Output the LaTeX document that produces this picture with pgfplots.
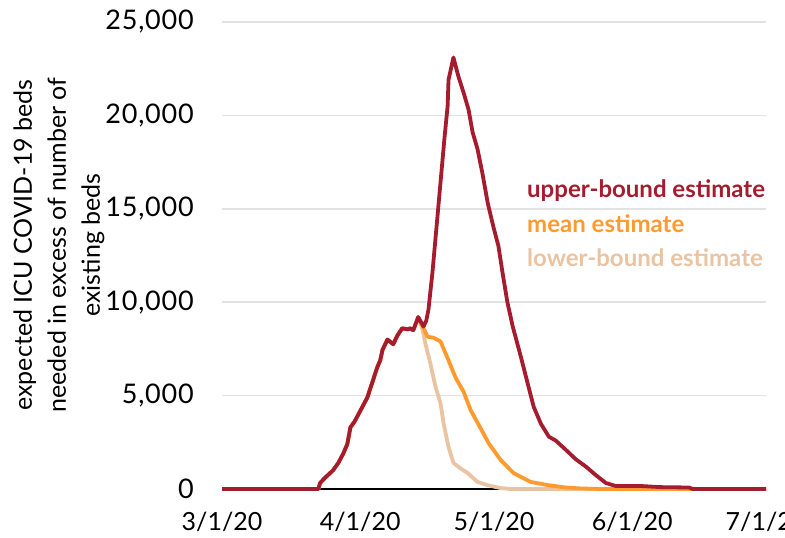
\documentclass[border=0pt]{standalone}
\usepackage{fontspec}
\setmainfont{Lato}
\newfontfamily\tickfont[LetterSpace=3]{Lato}
\usepackage{pgfplots}
\pgfplotsset{compat=1.18}
\definecolor{ub}{HTML}{A51C2F}
\definecolor{mn}{HTML}{FF9A2E}
\definecolor{lb}{HTML}{EAC4A2}
\definecolor{gridc}{HTML}{E2E2E2}
\begin{document}
\begin{tikzpicture}[x=1pt,y=1pt]
\useasboundingbox (0,0) rectangle (785,538);
\clip (0,0) rectangle (785,538);
\begin{axis}[
  at={(222pt,49pt)}, anchor=south west,
  scale only axis, width=544pt, height=467pt,
  xmin=0, xmax=122, ymin=0, ymax=25000,
  axis x line*=bottom, axis y line*=left,
  y axis line style={draw=none},
  x axis line style={black, line width=1.5pt},
  xtick={0,31,61,92,122},
  xticklabels={3/1/20,4/1/20,5/1/20,6/1/20,7/1/20},
  ytick={0,5000,10000,15000,20000,25000},
  major tick length=0pt,
  ymajorgrids, major grid style={gridc, line width=1.5pt},
  /pgf/number format/assume math mode=true,
  /pgf/number format/1000 sep={,},
  scaled y ticks=false,
  yticklabel style={font=\tickfont\fontsize{27}{30}\selectfont, black, anchor=east, inner sep=0pt, xshift=-28pt},
  xticklabel style={font=\fontsize{25}{30}\selectfont, black, anchor=north, inner sep=0pt, yshift=-23pt},
  clip=false,
]
\addplot[lb, line width=3.8pt, line join=round] coordinates {
(0,0) (21.6,0) (22.0,320) (23.1,600) (24.9,1000) (26.1,1400) (27.2,1900) (28.1,2400) (28.8,3300) (29.7,3600) (30.6,4000) (32.6,4900) (33.7,5700) (34.8,6500) (35.5,6900) (36.0,7450) (37.1,8000) (38.4,7750) (39.3,8200) (40.4,8600) (41.6,8550) (42.2,8600) (42.9,8500) (44.0,9200)
(44.9,8600) (45.6,7800) (46.7,6750) (47.9,5450) (49.0,4600) (49.7,3500) (50.8,2250) (51.9,1400) (53.5,1100) (55.1,850) (57.3,380) (59.6,200) (62.5,50) (64.7,0) (122,0)
};
\addplot[mn, line width=3.8pt, line join=round] coordinates {
(0,0) (21.6,0) (22.0,320) (23.1,600) (24.9,1000) (26.1,1400) (27.2,1900) (28.1,2400) (28.8,3300) (29.7,3600) (30.6,4000) (32.6,4900) (33.7,5700) (34.8,6500) (35.5,6900) (36.0,7450) (37.1,8000) (38.4,7750) (39.3,8200) (40.4,8600) (41.6,8550) (42.2,8600) (42.9,8500) (44.0,9200)
(45.2,8600) (46.1,8150) (47.4,8100) (49.0,7900) (50.6,7000) (52.4,5950) (54.2,5200) (55.7,4250) (58.0,3250) (59.8,2450) (62.5,1550) (65.4,850) (69.2,380) (73.0,210) (77.1,80) (80.4,30) (84.9,0) (122,0)
};
\addplot[ub, line width=3.8pt, line join=round] coordinates {
(0,0) (21.6,0) (22.0,320) (23.1,600) (24.9,1000) (26.1,1400) (27.2,1900) (28.1,2400) (28.8,3300) (29.7,3600) (30.6,4000) (32.6,4900) (33.7,5700) (34.8,6500) (35.5,6900) (36.0,7450) (37.1,8000) (38.4,7750) (39.3,8200) (40.4,8600) (41.6,8550) (42.2,8600) (42.9,8500) (44.0,9200)
(45.2,8700) (45.8,9000) (46.3,9600) (47.2,11600) (48.1,14000) (49.0,16400) (49.9,18800) (50.6,20500) (50.8,21900) (51.9,23100) (53.0,22100) (54.2,21200) (55.3,20300) (56.2,19100) (57.3,18200) (58.4,16900) (59.6,15300) (60.9,14000) (62.0,13000) (62.9,11600) (64.0,10000) (65.2,8700) (67.0,7100) (68.5,5700) (69.9,4400) (71.5,3500) (73.3,2800) (74.8,2600) (77.1,2100) (79.3,1600) (81.6,1200) (83.8,750) (86.1,320) (88.3,160) (93.9,160) (98.4,100) (104.7,80) (105.6,0) (122,0)
};
\end{axis}
\node[rotate=90, align=center, inner sep=0pt, font=\fontsize{25}{34}\selectfont] at (59,293) {expected ICU COVID-19 beds\\needed in excess of number of\\existing beds};
\node[anchor=base west, inner sep=0pt, text=ub, font=\fontsize{24}{26}\selectfont\bfseries] at (527,340) {upper-bound estimate};
\node[anchor=base west, inner sep=0pt, text=mn, font=\fontsize{24}{26}\selectfont\bfseries] at (527,305) {mean estimate};
\node[anchor=base west, inner sep=0pt, text=lb, font=\fontsize{24}{26}\selectfont\bfseries] at (527,271) {lower-bound estimate};
\end{tikzpicture}
\end{document}
